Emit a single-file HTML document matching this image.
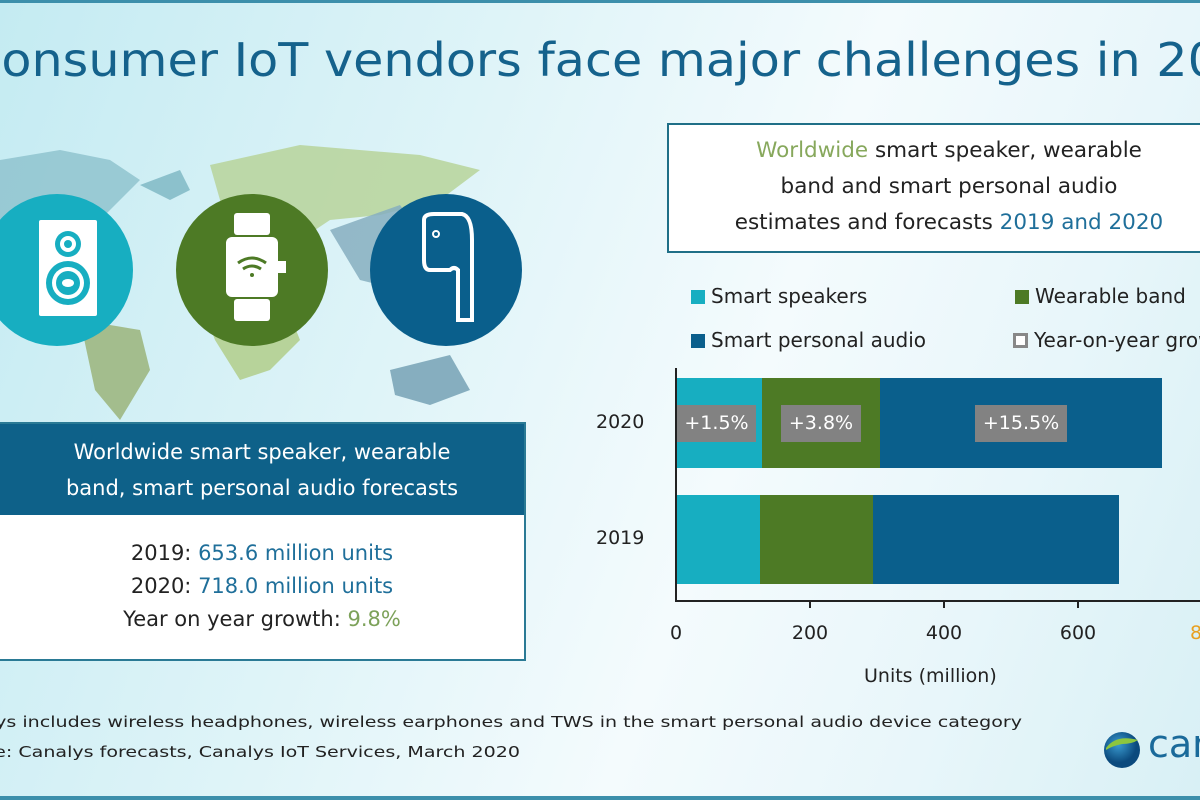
<!DOCTYPE html>
<html><head><meta charset="utf-8"><style>
html,body{margin:0;padding:0}
body{width:1200px;height:800px;position:relative;overflow:hidden;font-family:"DejaVu Sans","Liberation Sans",sans-serif;
background:linear-gradient(110deg,#c4ebf2 0%,#dff4f8 35%,#f4fbfd 60%,#e8f6fa 80%,#d8f0f5 100%)}
.abs{position:absolute}
.title{left:-33px;top:33px;font-size:46px;color:#15628c;white-space:nowrap;transform:scaleX(1.07);transform-origin:left}
.circ{position:absolute;border-radius:50%;width:152px;height:152px;top:194px}
.lbox{left:-2px;top:422px;width:524px;height:235px;border:2px solid #2a7a95;background:#fff;overflow:hidden}
.lhead{position:absolute;left:0;top:0;width:100%;height:91px;background:#0e6189;color:#fff;font-size:21px;text-align:center;line-height:36px;padding-top:10px;box-sizing:border-box}
.lbody{position:absolute;left:0;top:113px;width:100%;text-align:center;font-size:21px;line-height:33px;color:#222}
.blue{color:#1f6f9a}.green{color:#7da25a}
.rbox{left:667px;top:123px;width:533px;height:130px;border:2px solid #1f6f87;border-right:none;background:#fff;box-sizing:border-box;overflow:hidden}
.rtxt{position:absolute;left:0;top:8px;width:560px;text-align:center;font-size:21.5px;line-height:36px;color:#222;white-space:nowrap}
.leg{font-size:20px;color:#222;white-space:nowrap}
.sq{display:inline-block;width:14px;height:14px;margin-right:6px;vertical-align:-1px}
.seg{position:absolute}
.gl{position:absolute;background:#828282;color:#fff;font-size:19px;text-align:center;line-height:37px;height:37px;top:405px}
.tick{font-size:19px;color:#222;width:60px;text-align:center;margin-left:-30px}
.foot{font-size:15px;color:#222;white-space:nowrap;text-align:right;width:1200px}
</style></head><body>
<div class="abs" style="left:0;top:0;width:1200px;height:3px;background:#3c8fab"></div>
<div class="abs" style="left:0;top:796px;width:1200px;height:4px;background:#3c8fab"></div>
<div class="abs" style="left:0;top:0;width:1200px;height:120px;overflow:hidden"><div class="abs title">Consumer IoT vendors face major challenges in 2020</div></div>

<svg class="abs" style="left:0;top:140px" width="560" height="290">
<path d="M0 20 L60 10 L110 20 L140 40 L120 60 L100 80 L80 90 L40 100 L0 95Z" fill="#8cc1cc" opacity=".8"/>
<path d="M140 45 L180 30 L190 50 L170 60Z" fill="#8cc1cc"/>
<path d="M80 180 L140 190 L150 230 L120 280 L95 250Z" fill="#a3bd8d"/>
<path d="M210 25 L300 5 L420 15 L480 30 L440 60 L380 75 L330 80 L300 100 L260 110 L230 90 L220 60Z" fill="#b7d39a" opacity=".85"/>
<path d="M200 160 L280 150 L300 200 L270 230 L240 240 L215 200Z" fill="#b7d39a"/>
<path d="M330 90 L400 65 L440 120 L400 150 L360 140Z" fill="#86aebf" opacity=".85"/>
<path d="M390 230 L450 215 L470 250 L430 265 L395 255Z" fill="#86aebf"/>
</svg>

<div class="circ" style="left:-19px;background:#17aec1"></div>
<svg class="abs" style="left:38px;top:219px" width="60" height="100">
<rect x="1" y="1" width="58" height="96" rx="2" fill="#fff"/>
<circle cx="30" cy="25" r="13" fill="#17aec1"/><circle cx="30" cy="25" r="8" fill="#fff"/><circle cx="30" cy="25" r="4" fill="#17aec1"/>
<circle cx="30" cy="64" r="22" fill="#17aec1"/><circle cx="30" cy="64" r="16" fill="#fff"/><circle cx="30" cy="64" r="12" fill="#17aec1"/><ellipse cx="30" cy="64" rx="6" ry="4" fill="#fff"/>
</svg>
<div class="circ" style="left:176px;background:#4d7a25"></div>
<svg class="abs" style="left:222px;top:213px" width="70" height="110">
<rect x="12" y="0" width="36" height="22" rx="3" fill="#fff"/>
<rect x="4" y="24" width="52" height="60" rx="6" fill="#fff"/>
<rect x="56" y="48" width="8" height="12" fill="#fff"/>
<rect x="12" y="86" width="36" height="22" rx="3" fill="#fff"/>
<path d="M16 50 Q30 40 44 50" stroke="#4d7a25" stroke-width="3" fill="none"/>
<path d="M21 56 Q30 50 39 56" stroke="#4d7a25" stroke-width="3" fill="none"/>
<circle cx="30" cy="62" r="2" fill="#4d7a25"/>
</svg>
<div class="circ" style="left:370px;background:#0a5f8c"></div>
<svg class="abs" style="left:412px;top:210px" width="70" height="120">
<path d="M12 10 Q12 4 22 4 L50 4 Q60 6 60 30 L60 110 L46 110 L46 60 Q42 56 38 60 L18 60 Q12 60 12 50Z" stroke="#fff" stroke-width="4" fill="none"/>
<circle cx="24" cy="24" r="3" stroke="#fff" stroke-width="2" fill="none"/>
</svg>

<div class="abs lbox">
<div class="lhead">Worldwide smart speaker, wearable<br>band, smart personal audio forecasts</div>
<div class="lbody">2019: <span class="blue">653.6 million units</span><br>2020: <span class="blue">718.0 million units</span><br>Year on year growth: <span class="green">9.8%</span></div>
</div>

<div class="abs rbox"><div class="rtxt"><span style="color:#87a85c">Worldwide</span> smart speaker, wearable<br>band and smart personal audio<br>estimates and forecasts <span class="blue">2019 and 2020</span></div></div>

<div class="abs" style="left:660px;top:280px;width:540px;height:80px;overflow:hidden">
<div class="abs leg" style="left:31px;top:4px"><span class="sq" style="background:#17aec1"></span>Smart speakers</div>
<div class="abs leg" style="left:355px;top:4px"><span class="sq" style="background:#4d7a25"></span>Wearable band</div>
<div class="abs leg" style="left:31px;top:48px"><span class="sq" style="background:#0a5f8c"></span>Smart personal audio</div>
<div class="abs leg" style="left:353px;top:48px"><span class="sq" style="border:3px solid #888;width:9px;height:9px;background:#fff"></span>Year-on-year growth</div>
</div>

<div class="abs" style="left:675px;top:368px;width:2px;height:234px;background:#222"></div>
<div class="abs" style="left:675px;top:600px;width:525px;height:2px;background:#222"></div>
<div class="abs" style="left:809px;top:600px;width:2px;height:8px;background:#222"></div>
<div class="abs" style="left:943px;top:600px;width:2px;height:8px;background:#222"></div>
<div class="abs" style="left:1077px;top:600px;width:2px;height:8px;background:#222"></div>

<div class="seg" style="left:677px;top:378px;width:85px;height:90px;background:#17aec1"></div>
<div class="seg" style="left:762px;top:378px;width:118px;height:90px;background:#4d7a25"></div>
<div class="seg" style="left:880px;top:378px;width:282px;height:90px;background:#0a5f8c"></div>
<div class="seg" style="left:677px;top:495px;width:83px;height:89px;background:#17aec1"></div>
<div class="seg" style="left:760px;top:495px;width:113px;height:89px;background:#4d7a25"></div>
<div class="seg" style="left:873px;top:495px;width:246px;height:89px;background:#0a5f8c"></div>
<div class="gl" style="left:677px;width:79px">+1.5%</div>
<div class="gl" style="left:781px;width:80px">+3.8%</div>
<div class="gl" style="left:975px;width:92px">+15.5%</div>

<div class="abs" style="left:596px;top:411px;font-size:19px;color:#222">2020</div>
<div class="abs" style="left:596px;top:527px;font-size:19px;color:#222">2019</div>
<div class="abs tick" style="left:676px;top:622px">0</div>
<div class="abs tick" style="left:810px;top:622px">200</div>
<div class="abs tick" style="left:944px;top:622px">400</div>
<div class="abs tick" style="left:1078px;top:622px">600</div>
<div class="abs" style="left:1190px;top:622px;font-size:19px;color:#e8a020;width:10px;overflow:hidden">8</div>
<div class="abs" style="left:864px;top:665px;font-size:19px;color:#222">Units (million)</div>

<div class="abs" style="left:0;top:700px;width:1060px;height:70px;overflow:hidden">
<div class="abs foot" style="right:38px;top:13px;transform:scaleX(1.27);transform-origin:right">Canalys includes wireless headphones, wireless earphones and TWS in the smart personal audio device category</div>
<div class="abs foot" style="right:540px;top:43px;transform:scaleX(1.27);transform-origin:right">Source: Canalys forecasts, Canalys IoT Services, March 2020</div>
</div>

<svg class="abs" style="left:1102px;top:728px" width="44" height="44">
<defs><radialGradient id="g" cx="40%" cy="35%"><stop offset="0" stop-color="#3a9bd0"/><stop offset="1" stop-color="#0b4a7d"/></radialGradient></defs>
<circle cx="20" cy="22" r="18" fill="url(#g)"/>
<path d="M4 20 Q14 6 36 12 Q30 16 20 16 Q10 18 4 22Z" fill="#8dc63f"/>
</svg>
<div class="abs" style="left:1148px;top:722px;width:52px;overflow:hidden;font-size:38px;color:#1a6a9a;white-space:nowrap">canalys</div>
</body></html>
